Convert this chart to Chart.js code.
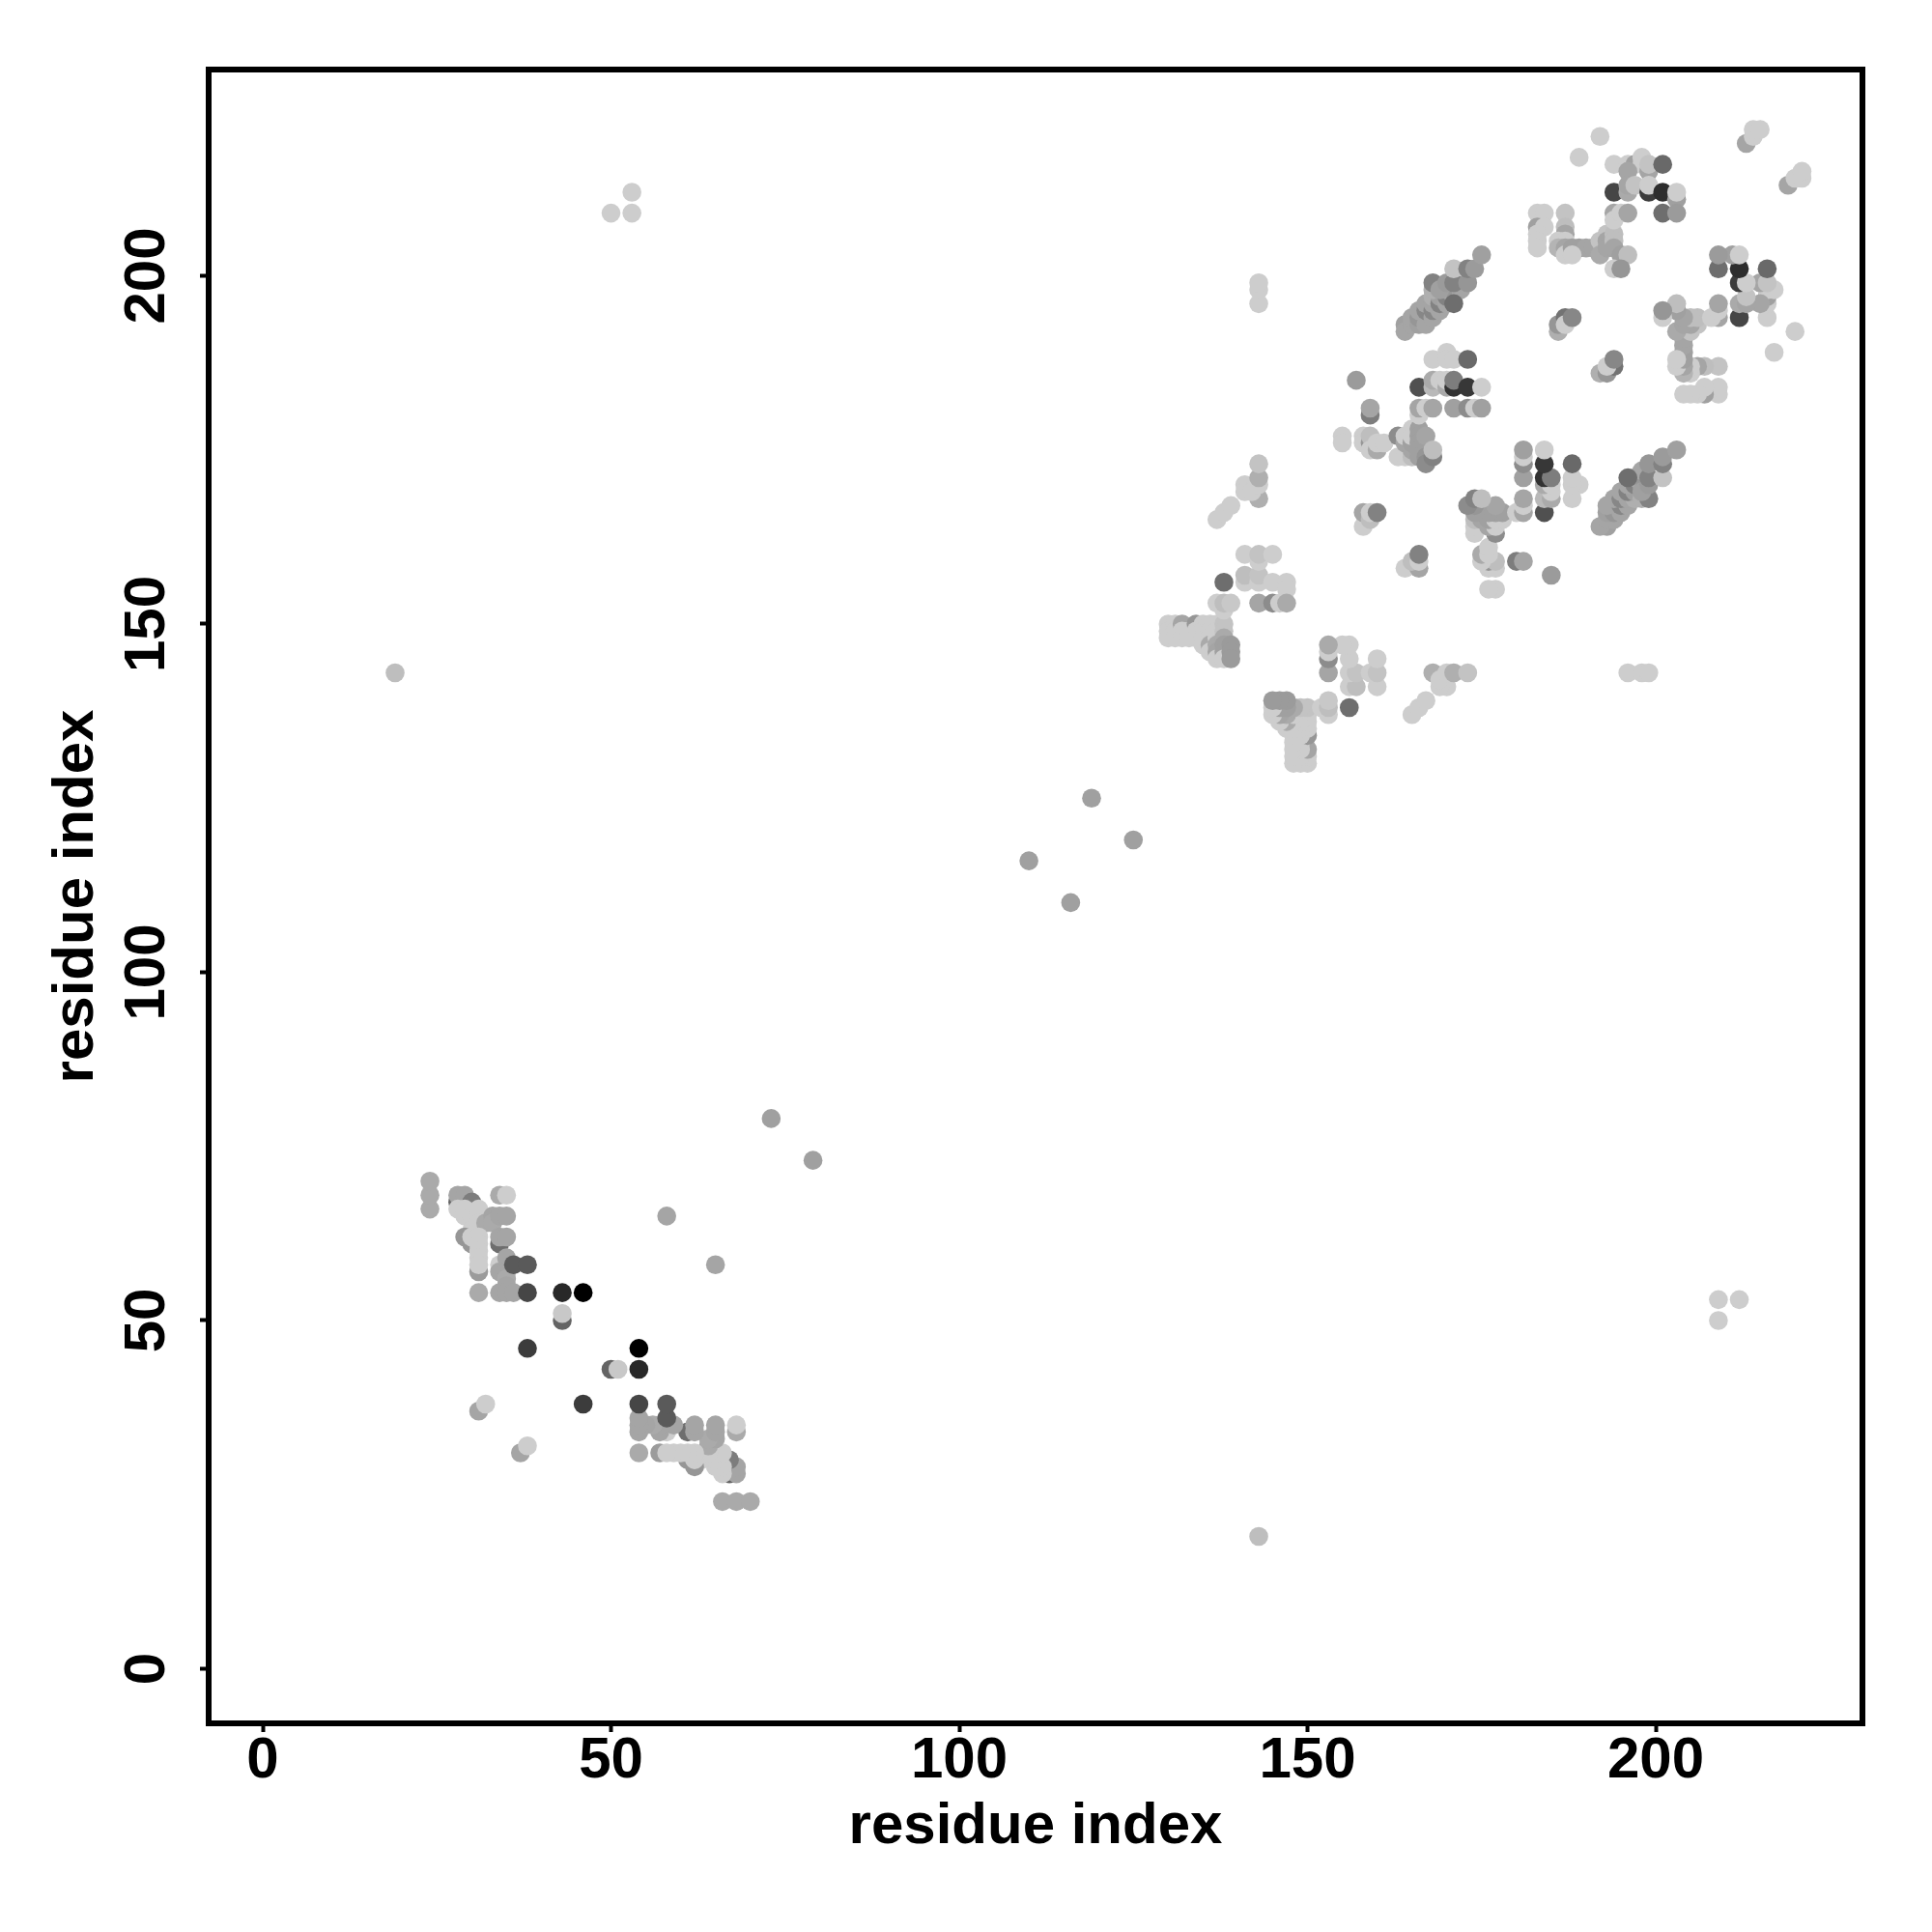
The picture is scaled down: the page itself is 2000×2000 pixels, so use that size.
<!DOCTYPE html>
<html>
<head>
<meta charset="utf-8">
<title>residue contact map</title>
<script src="https://cdn.jsdelivr.net/npm/chart.js@4"></script>
<style>
  html, body { margin: 0; padding: 0; background: #fff; }
  canvas { display: block; }
</style>
</head>
<body>
<canvas id="contactMap" width="2000" height="2000"></canvas>
<script>
// contacts as [residue i, residue j, grey level], map is symmetric so (i,j) and (j,i) both get a dot
const tickValues = [0, 50, 100, 150, 200];
const axisLabel = 'residue index';

const isolated = [[19,143,190],[50,209,205],[53,209,205],[53,212,205],[73,79,160],[110,116,160],[119,125,160]];

const lowCluster = [
  [24,66,170],[24,68,170],[24,70,170],[28,67,100],[28,68,165],[29,68,165],[30,67,125],[28,66,205],[29,66,205],
  [29,65,205],[30,65,205],[31,66,205],[30,63,205],[31,65,205],[31,64,205],[32,64,170],[33,65,165],[33,64,170],
  [34,65,165],[35,65,165],[34,68,170],[35,68,205]
];
const lowTail = [
  [29,62,150],[30,61,150],[30,62,205],[31,57,155],[31,62,205],[31,61,205],[31,60,205],[31,59,205],[31,58,205],
  [31,54,170],[34,61,110],[34,62,165],[35,62,165],[34,58,205],[35,59,165],[34,57,165],[35,57,165],[35,56,170],
  [35,55,165],[34,54,165],[35,54,165],[36,54,165],[36,58,90],[38,58,90],[38,54,70],[43,54,40],[46,54,0],
  [43,50,100],[43,51,200],[38,46,60],[31,37,165],[32,38,205],[58,65,165]
];

const block130 = [
  [130,150,205],[130,149,205],[130,148,205],[131,150,205],[131,149,205],[131,148,205],[132,150,165],[132,149,205],
  [132,148,205],[133,149,205],[133,148,205],[134,150,150],[134,149,205],[134,148,205],[135,150,205],[135,149,205],
  [135,148,205],[135,147,205],[136,150,205],[136,149,205],[136,148,205],[136,147,170],[136,146,205],[137,150,205],
  [137,149,205],[137,148,205],[137,147,170],[137,146,165],[137,145,205],[138,150,195],[138,149,195],[138,148,170],
  [138,147,160],[138,146,160],[138,145,205],[139,147,155],[139,146,155],[139,145,155]
];
const column143 = [
  [138,152,205],[137,153,205],[138,153,190],[139,153,200],[138,156,110],[141,156,205],[141,157,190],[143,156,205],
  [143,157,195],[145,156,205],[147,156,205],[147,155,205],[141,160,205],[143,159,205],[143,160,195],[145,160,205],
  [143,153,165],[145,153,140],[146,153,205],[147,153,170],[137,165,205],[138,166,205],[139,167,205],[143,168,175],
  [141,170,205],[141,169,205],[142,169,205],[143,170,205],[143,171,175],[143,173,195],[143,196,205],[143,198,205],
  [143,199,205]
];
const middleCluster = [
  [155,177,205],[155,176,205],[158,177,205],[158,176,205],[159,176,150],[159,177,190],[159,175,205],[160,175,170],
  [160,176,205],[161,176,205],[159,180,125],[159,181,165],[157,185,155],[158,164,205],[158,166,165],[159,165,190],
  [159,166,205],[160,166,130],[163,177,140],[163,174,205],[164,174,205],[164,176,165],[164,177,205],[165,178,205],
  [165,174,190],[165,175,165],[165,176,160],[165,177,205],[166,178,160],[166,177,160],[166,176,160],[166,175,160],
  [166,174,160],[167,177,165],[167,174,150],[167,173,140],[168,174,130],[168,175,190]
];
const row181 = [
  [166,180,205],[166,181,165],[167,181,205],[168,181,165],[171,181,160],[173,181,140],[174,181,205],[175,181,160],
  [168,188,205],[170,189,205],[170,188,205],[171,188,205],[173,188,105],[166,184,80],[168,184,185],[168,185,170],
  [169,185,205],[170,184,170],[170,185,205],[171,184,50],[171,185,125],[173,184,55],[175,184,205]
];
const band164 = [
  [164,193,160],[164,192,165],[165,193,165],[165,194,165],[166,193,160],[166,194,150],[166,195,165],[167,193,165],
  [167,195,135],[167,196,165],[168,194,165],[168,195,135],[168,196,165],[168,197,175],[169,195,165],[169,196,130],
  [169,197,160],[170,196,165],[170,197,130],[170,198,160],[171,197,165],[171,198,150],[168,198,175],[168,199,130],
  [169,198,160],[170,199,155],[172,198,165],[171,199,130],[171,196,110],[173,199,150],[171,201,195],[173,201,130],
  [174,201,155],[175,203,160]
];
const upperCluster = [
  [186,192,175],[186,193,150],[187,194,115],[187,193,205],[188,194,135],
  [183,209,205],[184,209,205],[183,207,160],[184,207,205],[183,206,205],[183,205,205],[183,204,205],[187,209,195],
  [187,207,190],[187,206,165],[186,205,205],[187,205,205],[186,204,180],[187,204,165],[187,203,205],[188,204,160],
  [189,204,160],[190,204,165],[188,203,205],[191,204,165],[192,205,195],[192,203,170],[193,206,195],[193,205,165],
  [193,204,165],[194,206,190],[194,205,190],[194,204,165],[195,203,160],[196,203,190],[194,201,205],[195,201,150]
];
const topCluster = [
  [189,217,205],[192,220,205],[194,216,205],[196,216,205],[197,216,160],[198,217,205],[198,216,205],[199,215,165],
  [199,216,195],[196,215,165],[201,216,105],[194,212,70],[196,212,170],[196,213,165],[197,213,195],[199,212,60],
  [199,213,205],[201,212,45],[194,209,165],[194,208,205],[195,209,205],[196,209,165],[201,209,110],[203,211,160],
  [203,212,205],[203,209,155],[213,219,165],[214,220,205],[214,221,205],[215,221,205]
];

const contactGroups = [isolated, lowCluster, lowTail, block130, column143, middleCluster, row181, band164, upperCluster, topCluster];

const points = [];
const pointColors = [];
contactGroups.forEach(group => {
  group.forEach(row => {
    const shade = 'rgb(' + row[2] + ',' + row[2] + ',' + row[2] + ')';
    points.push({ x: row[0], y: row[1] });
    pointColors.push(shade);
    points.push({ x: row[1], y: row[0] });
    pointColors.push(shade);
  });
});

const boxPlugin = {
  id: 'plotBox',
  afterDraw(chart) {
    const a = chart.chartArea;
    const ctx = chart.ctx;
    ctx.save();
    ctx.strokeStyle = '#000';
    ctx.lineWidth = 6;
    ctx.strokeRect(a.left, a.top, a.right - a.left, a.bottom - a.top);
    ctx.restore();
  }
};

const labelFont = { family: '"Liberation Sans"', size: 60, weight: 'bold' };
const setTicks = axis => { axis.ticks = tickValues.map(v => ({ value: v })); };

new Chart(document.getElementById('contactMap'), {
  type: 'scatter',
  data: {
    datasets: [{
      data: points,
      pointRadius: 9.8,
      pointBorderWidth: 0,
      pointBackgroundColor: pointColors,
      showLine: false
    }]
  },
  options: {
    responsive: false,
    animation: false,
    layout: { padding: { top: 72, right: 72, left: 0, bottom: 0 } },
    plugins: { legend: { display: false }, tooltip: { enabled: false } },
    scales: {
      x: {
        type: 'linear',
        min: -7.77,
        max: 229.68,
        afterBuildTicks: setTicks,
        afterFit(axis) { axis.height = 216; },
        border: { display: false },
        grid: { drawOnChartArea: false, drawTicks: true, tickLength: 9, tickWidth: 4, tickColor: '#000' },
        ticks: { color: '#000', font: labelFont, padding: -6, maxRotation: 0 },
        title: { display: true, text: axisLabel, color: '#000', font: labelFont, padding: { top: 0, bottom: 73 } }
      },
      y: {
        type: 'linear',
        min: -7.84,
        max: 229.61,
        afterBuildTicks: setTicks,
        afterFit(axis) { axis.width = 216; },
        border: { display: false },
        grid: { drawOnChartArea: false, drawTicks: true, tickLength: 9, tickWidth: 4, tickColor: '#000' },
        ticks: { color: '#000', font: labelFont, padding: 3, minRotation: 90, maxRotation: 90, crossAlign: 'center' },
        title: { display: true, text: axisLabel, color: '#000', font: labelFont, padding: { top: 43, bottom: 0 } }
      }
    }
  },
  plugins: [boxPlugin]
});
</script>
</body>
</html>
